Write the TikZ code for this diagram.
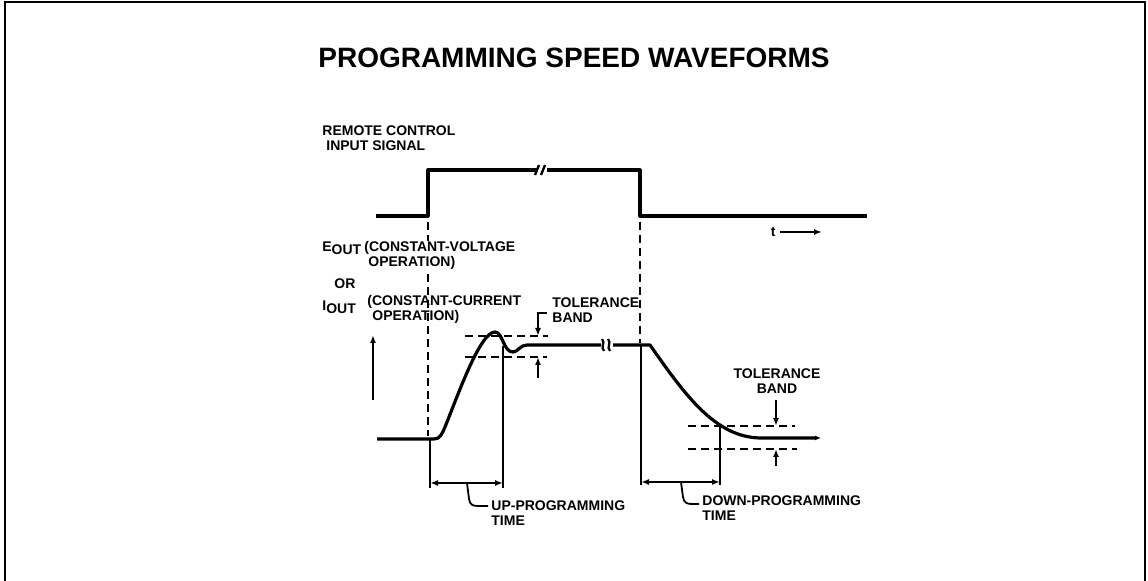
\documentclass[tikz,border=0pt]{standalone}
\usepackage{fontspec}
\setmainfont{Liberation Sans}
\usetikzlibrary{arrows.meta}

\begin{document}
\begin{tikzpicture}[x=0.5pt, y=-0.5pt,
		label_style/.style={font=\bfseries\fontsize{7}{7.5}\selectfont, inner sep=0pt, align=left},
		wave_style/.style={draw=black, line width=1.6pt, line join=round},
		dash_style/.style={draw=black, line width=0.7pt, dash pattern=on 4pt off 2.5pt},
		ext_style/.style={draw=black, line width=0.9pt},
		dim_style/.style={draw=black, line width=0.9pt, {Latex[length=4pt,width=3pt]}-{Latex[length=4pt,width=3pt]}},
		tip_style/.style={draw=black, line width=0.9pt, -{Latex[length=4pt,width=3pt]}}]
		\useasboundingbox (0,0) rectangle (1148,581);
		\draw[line width=1pt] (5,581) -- (5,2.5) -- (1145,2.5) -- (1145,581);
		\node[font=\bfseries\fontsize{14}{16}\selectfont] (title) at (574,58) {PROGRAMMING SPEED WAVEFORMS};

		% remote control input signal
		\draw[wave_style] (376,216) -- (428,216) -- (428,170) -- (537,170);
		\draw[wave_style] (547,170) -- (640,170) -- (640,216) -- (867,216);
		\draw[line width=1.2pt] (535,175) -- (539,165);
		\draw[line width=1.2pt] (541,175) -- (545,165);

		% timing lines
		\draw[dash_style] (428,222) -- (428,436);
		\draw[dash_style] (640,222) -- (640,343);
		\draw[ext_style] (430,439) -- (430,488);
		\draw[ext_style] (503,346) -- (503,488);
		\draw[ext_style] (641,345) -- (641,485);
		\draw[ext_style] (720,426) -- (720,485);

		% tolerance bands
		\draw[dash_style] (465,336) -- (548,336);
		\draw[dash_style] (465,357) -- (547,357);
		\draw[dash_style] (688,426) -- (795,426);
		\draw[dash_style] (688,449) -- (797,449);

		% output waveform
		\draw[wave_style] (377,439) -- (434,439) .. controls (440,439) and (442,434) .. (445,427)
			.. controls (458,395) and (480,332) .. (495,332)
			.. controls (503,332) and (503,352) .. (513,352)
			.. controls (518,352) and (520,345) .. (527,345) -- (601,345);
		\draw[line width=1.1pt] (602,339) .. controls (606,343) and (600,347) .. (604,351);
		\draw[line width=1.1pt] (608,339) .. controls (612,343) and (606,347) .. (610,351);
		\draw[wave_style, -{Latex[length=3pt,width=2.5pt]}] (613,345) -- (650,345)
			.. controls (685,395) and (715,437) .. (760,438) -- (821,438);

		% labels
		\node[label_style, anchor=west] (lbl_remote) at (322,138) {REMOTE CONTROL\\\hspace{2pt}INPUT SIGNAL};
		\node[label_style, anchor=west] (lbl_eout) at (322,248) {E\raisebox{-1.5pt}{OUT}};
		\node[label_style, anchor=west, fill=white] (lbl_cv) at (364,255) {(CONSTANT-VOLTAGE\\\hspace{2pt}OPERATION)};
		\node[label_style, anchor=west] (lbl_or) at (334,284) {OR};
		\node[label_style, anchor=west] (lbl_iout) at (322,307) {I\raisebox{-1.5pt}{OUT}};
		\node[label_style, anchor=west] (lbl_cc) at (367,309) {(CONSTANT-CURRENT\\\hspace{2.5pt}OPERATION)};
		\node[label_style, anchor=west] (lbl_tol_up) at (552,310) {TOLERANCE\\BAND};
		\node[label_style, align=center] (lbl_tol_dn) at (777,381) {TOLERANCE\\BAND};
		\node[label_style, anchor=west] (lbl_up) at (491,513) {UP-PROGRAMMING\\TIME};
		\node[label_style, anchor=west] (lbl_dn) at (702,508) {DOWN-PROGRAMMING\\TIME};
		\node[label_style, anchor=east] (lbl_t) at (776,232) {t};

		% arrows
		\draw[tip_style] (547,313) -- (538,313) -- (538,336);
		\draw[tip_style] (538,378) -- (538,357);
		\draw[tip_style] (776,400) -- (776,426);
		\draw[tip_style] (776,466) -- (776,449);
		\draw[tip_style] (373,400) -- (373,335);
		\draw[tip_style] (lbl_t.east) ++(4,0) -- (822,232);
		\draw[dim_style] (430,483) -- (503,483);
		\draw[dim_style] (641,482) -- (720,482);
		\draw[ext_style] (467,483) -- (469,499) .. controls (470,505) and (473,506) .. (478,506) -- (488,506);
		\draw[ext_style] (681,482) -- (683,497) .. controls (684,503) and (687,504) .. (692,504) -- (699,504);
		\end{tikzpicture}
\end{document}
